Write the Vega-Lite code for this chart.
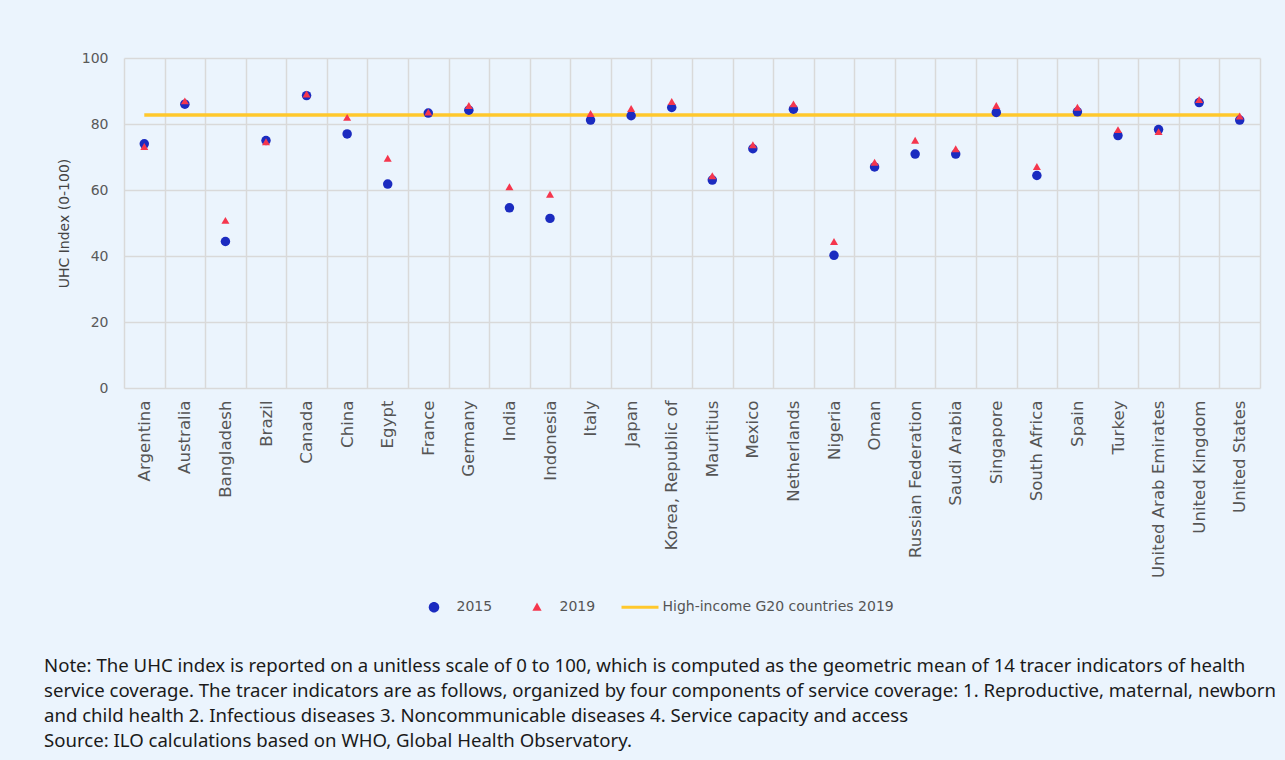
{
  "$schema": "https://vega.github.io/schema/vega-lite/v6.json",
  "autosize": "none",
  "width": 1136,
  "height": 330,
  "padding": {"left": 124, "top": 58, "right": 25, "bottom": 372},
  "background": "#EBF4FD",
  "config": {
    "view": {"stroke": null},
    "axis": {"gridColor": "#D9D9D9", "gridWidth": 1.5, "domain": false, "ticks": false}
  },
  "title": {
    "text": [
      "Note: The UHC index is reported on a unitless scale of 0 to 100, which is computed as the geometric mean of 14 tracer indicators of health",
      "service coverage. The tracer indicators are as follows, organized by four components of service coverage: 1. Reproductive, maternal, newborn",
      "and child health 2. Infectious diseases 3. Noncommunicable diseases 4. Service capacity and access",
      "Source: ILO calculations based on WHO, Global Health Observatory."
    ],
    "orient": "bottom",
    "anchor": "start",
    "frame": "group",
    "dx": -80,
    "offset": 42,
    "font": "Noto Sans",
    "fontSize": 18.6,
    "fontWeight": "normal",
    "color": "#1a1a1a",
    "lineHeight": 25
  },
  "data": {
    "values": [
      {"country": "Argentina", "y2015": 74, "y2019": 73.2, "g20": 82.7},
      {"country": "Australia", "y2015": 86, "y2019": 87, "g20": 82.7},
      {"country": "Bangladesh", "y2015": 44.4, "y2019": 50.8, "g20": 82.7},
      {"country": "Brazil", "y2015": 75, "y2019": 74.6, "g20": 82.7},
      {"country": "Canada", "y2015": 88.6, "y2019": 89.1, "g20": 82.7},
      {"country": "China", "y2015": 77, "y2019": 82, "g20": 82.7},
      {"country": "Egypt", "y2015": 61.8, "y2019": 69.6, "g20": 82.7},
      {"country": "France", "y2015": 83.3, "y2019": 83.6, "g20": 82.7},
      {"country": "Germany", "y2015": 84.2, "y2019": 85.6, "g20": 82.7},
      {"country": "India", "y2015": 54.6, "y2019": 61, "g20": 82.7},
      {"country": "Indonesia", "y2015": 51.4, "y2019": 58.7, "g20": 82.7},
      {"country": "Italy", "y2015": 81.2, "y2019": 83.2, "g20": 82.7},
      {"country": "Japan", "y2015": 82.5, "y2019": 84.7, "g20": 82.7},
      {"country": "Korea, Republic of", "y2015": 85, "y2019": 86.8, "g20": 82.7},
      {"country": "Mauritius", "y2015": 63, "y2019": 64.3, "g20": 82.7},
      {"country": "Mexico", "y2015": 72.5, "y2019": 73.7, "g20": 82.7},
      {"country": "Netherlands", "y2015": 84.5, "y2019": 86.1, "g20": 82.7},
      {"country": "Nigeria", "y2015": 40.2, "y2019": 44.4, "g20": 82.7},
      {"country": "Oman", "y2015": 67, "y2019": 68.4, "g20": 82.7},
      {"country": "Russian Federation", "y2015": 70.9, "y2019": 75.1, "g20": 82.7},
      {"country": "Saudi Arabia", "y2015": 70.9, "y2019": 72.5, "g20": 82.7},
      {"country": "Singapore", "y2015": 83.5, "y2019": 85.6, "g20": 82.7},
      {"country": "South Africa", "y2015": 64.4, "y2019": 67.1, "g20": 82.7},
      {"country": "Spain", "y2015": 83.7, "y2019": 85.1, "g20": 82.7},
      {"country": "Turkey", "y2015": 76.5, "y2019": 78.3, "g20": 82.7},
      {"country": "United Arab Emirates", "y2015": 78.3, "y2019": 77.7, "g20": 82.7},
      {"country": "United Kingdom", "y2015": 86.5, "y2019": 87.4, "g20": 82.7},
      {"country": "United States", "y2015": 81.2, "y2019": 82.4, "g20": 82.7}
    ]
  },
  "transform": [{"fold": ["y2015", "y2019", "g20"], "as": ["key", "value"]}],
  "encoding": {
    "x": {
      "field": "country",
      "type": "nominal",
      "sort": null,
      "scale": {"paddingInner": 0, "paddingOuter": 0},
      "axis": {
        "title": null,
        "labelAngle": -90,
        "labelPadding": 12,
        "labelFont": "DejaVu Sans",
        "labelFontSize": 16.6,
        "labelColor": "#555555",
        "grid": true,
        "tickBand": "extent"
      }
    },
    "y": {
      "field": "value",
      "type": "quantitative",
      "scale": {"domain": [0, 100], "nice": false},
      "axis": {
        "title": "UHC Index (0-100)",
        "titleFont": "DejaVu Sans",
        "titleFontSize": 14,
        "titleFontWeight": "normal",
        "titleColor": "#444444",
        "titlePadding": 10,
        "values": [0, 20, 40, 60, 80, 100],
        "labelFont": "DejaVu Sans",
        "labelFontSize": 14,
        "labelColor": "#595959",
        "labelPadding": 16,
        "grid": true
      }
    }
  },
  "layer": [
    {
      "transform": [{"filter": "datum.key === 'g20'"}],
      "mark": {"type": "line", "color": "#FFC82C", "strokeWidth": 3.5}
    },
    {
      "transform": [{"filter": "datum.key === 'y2015'"}],
      "mark": {"type": "point", "shape": "circle", "filled": true, "opacity": 1, "color": "#1B2BC0", "size": 90}
    },
    {
      "transform": [{"filter": "datum.key === 'y2019'"}],
      "mark": {"type": "point", "shape": "triangle-up", "filled": true, "opacity": 1, "color": "#F5364D", "size": 64}
    },
    {
      "transform": [{"filter": "false"}],
      "mark": {"type": "point", "filled": true, "opacity": 1},
      "encoding": {
        "shape": {
          "field": "key",
          "type": "nominal",
          "scale": {
            "domain": ["y2015", "y2019", "g20"],
            "range": [
              "M0.284,0A0.284,0.284,0,1,1,-0.284,0A0.284,0.284,0,1,1,0.284,0Z",
              "M0,-0.26L0.25,0.19L-0.25,0.19Z",
              "M-1,-0.085H1V0.085H-1Z"
            ]
          },
          "legend": {
            "orient": "none",
            "legendX": 290.5,
            "legendY": 529.5,
            "direction": "horizontal",
            "title": null,
            "symbolSize": 1369,
            "labelOffset": 3,
            "labelLimit": 0,
            "columnPadding": 25,
            "labelFont": "DejaVu Sans",
            "labelFontSize": 14,
            "labelColor": "#555555",
            "labelExpr": "datum.value === 'y2015' ? '2015' : datum.value === 'y2019' ? '2019' : 'High-income G20 countries 2019'"
          }
        },
        "color": {
          "field": "key",
          "type": "nominal",
          "scale": {"domain": ["y2015", "y2019", "g20"], "range": ["#1B2BC0", "#F5364D", "#FFC82C"]}
        }
      }
    }
  ]
}
